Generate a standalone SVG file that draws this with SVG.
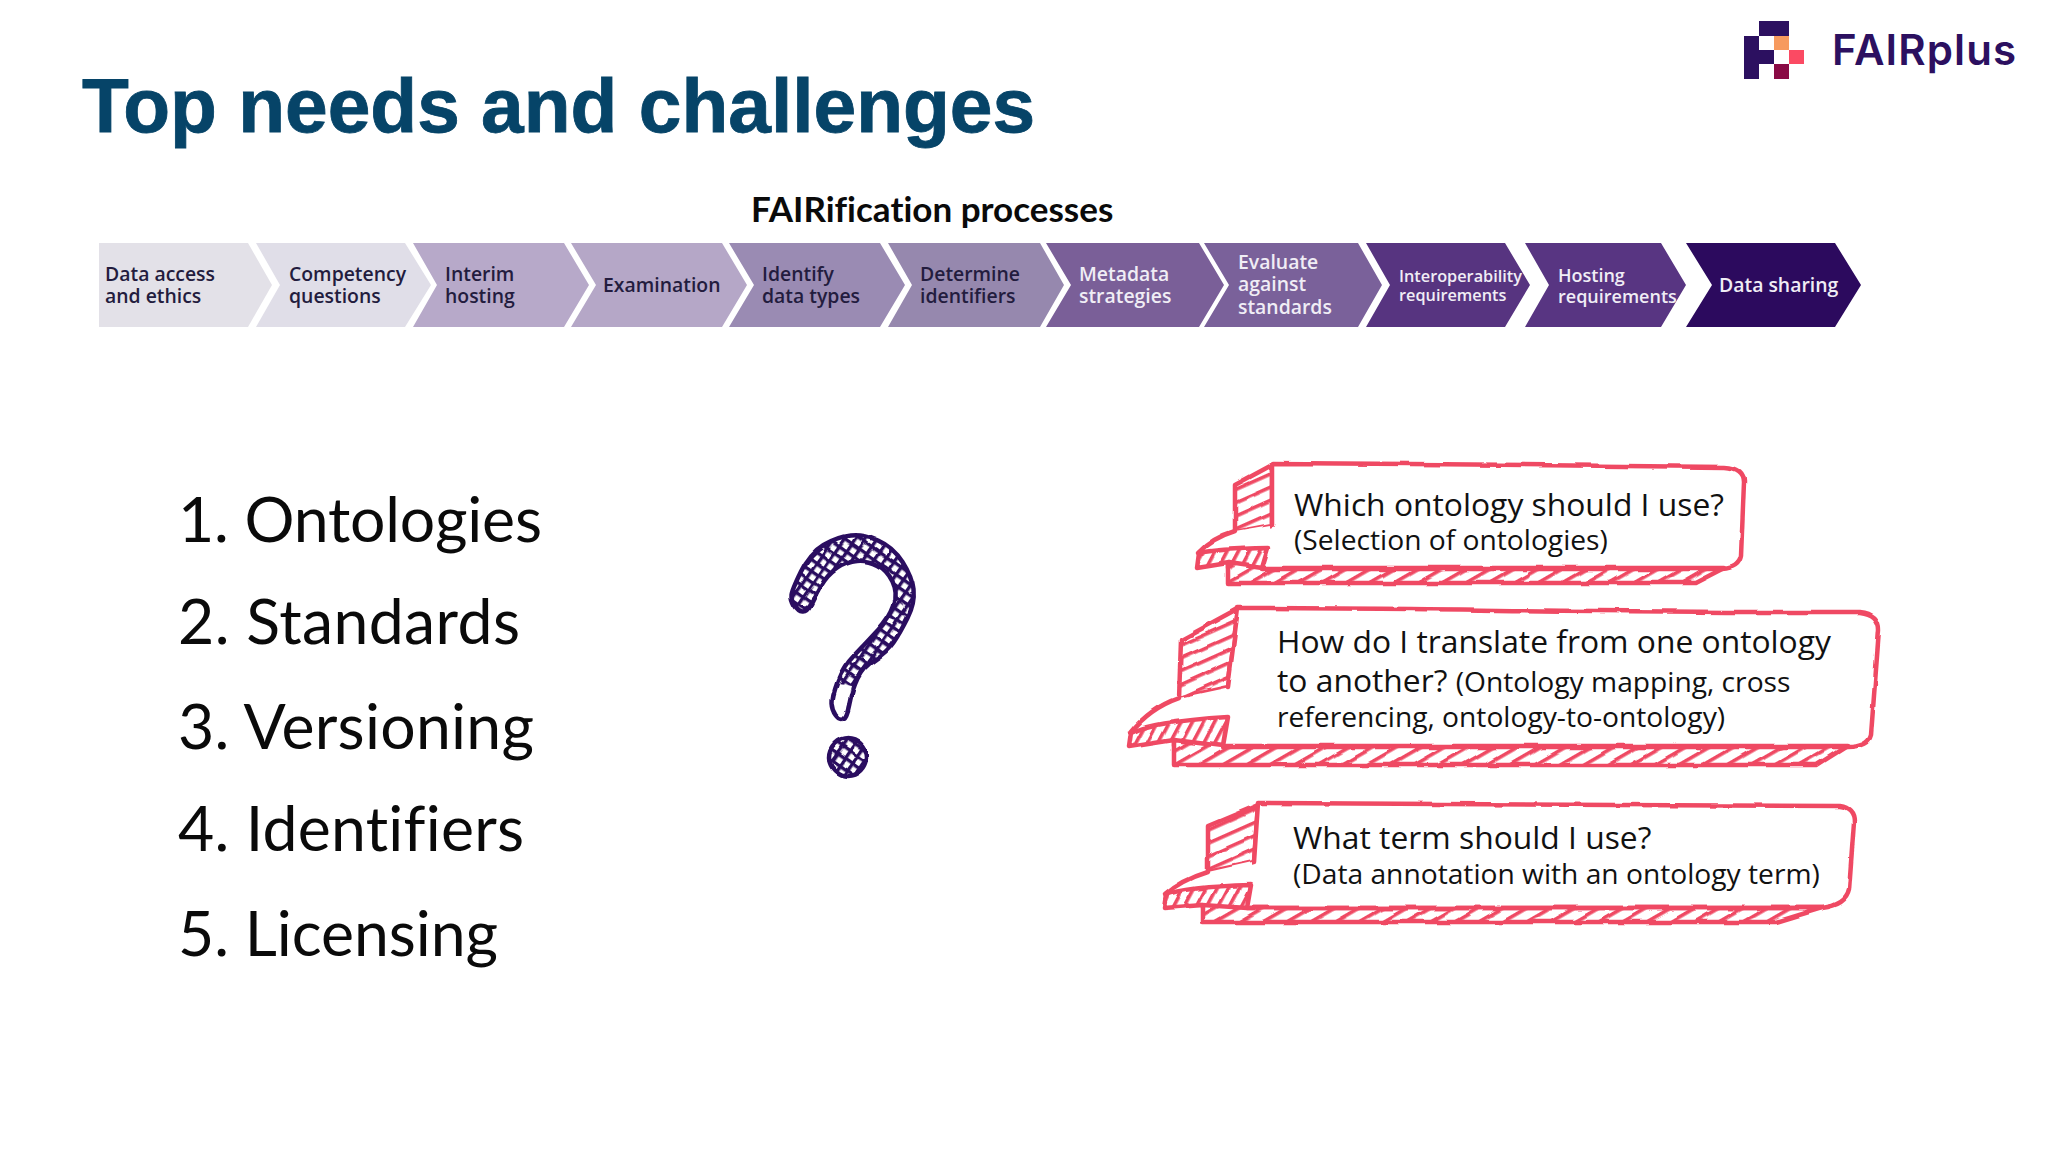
<svg xmlns="http://www.w3.org/2000/svg" width="2048" height="1152" viewBox="0 0 2048 1152">
<style>
text{font-family:"Open Sans","Noto Sans",sans-serif;font-variant-ligatures:none}
.title{font-family:"Liberation Sans",Arial,sans-serif;font-weight:700;font-size:76.7px;fill:#064468;stroke:#064468;stroke-width:.8}
.head{font-family:Lato,"Open Sans",sans-serif;font-weight:700;font-size:35px;fill:#0a0a0a}
.li{font-family:Lato,"Open Sans",sans-serif;font-size:62.5px;fill:#0a0a0a}
.c{font-size:19.4px;font-weight:600}
.d{fill:#231c3e}.l{fill:#f0edf5}
.q{font-size:31.8px;fill:#111}.s{font-size:28.2px;fill:#111}
.w{fill:#fff;stroke:none}
.e{fill:none;stroke:#ef4a64;stroke-width:4.5;stroke-linejoin:round;stroke-linecap:round}
.ha{fill:url(#hatchA);stroke:#ef4a64;stroke-width:4.5;stroke-linejoin:round}
.hb{fill:url(#hatchB);stroke:#ef4a64;stroke-width:4.5;stroke-linejoin:round}
.hc{fill:url(#hatchC);stroke:#ef4a64;stroke-width:4.5;stroke-linejoin:round}
</style>
<defs>
<pattern id="hatchA" width="12" height="12" patternUnits="userSpaceOnUse" patternTransform="rotate(-24)"><rect width="12" height="12" fill="#fff"/><rect width="12" height="3.6" fill="#ef4a64"/></pattern>
<pattern id="hatchB" width="12" height="12" patternUnits="userSpaceOnUse" patternTransform="rotate(-30)"><rect width="12" height="12" fill="#fff"/><rect width="12" height="3.6" fill="#ef4a64"/></pattern>
<pattern id="hatchC" width="10" height="10" patternUnits="userSpaceOnUse" patternTransform="rotate(-62)"><rect width="10" height="10" fill="#fff"/><rect width="10" height="3.6" fill="#ef4a64"/></pattern>
<pattern id="cross" width="9" height="9" patternUnits="userSpaceOnUse" patternTransform="rotate(35)"><rect width="9" height="9" fill="#fff"/><rect width="9" height="3.4" fill="#2c1060"/><rect width="3.4" height="9" fill="#2c1060"/></pattern>
<filter id="rough" x="-5%" y="-5%" width="110%" height="110%"><feTurbulence type="fractalNoise" baseFrequency="0.035" numOctaves="2" seed="4"/><feDisplacementMap in="SourceGraphic" scale="4" xChannelSelector="R" yChannelSelector="G"/></filter>
</defs>
<rect width="2048" height="1152" fill="#fff"/>
<text class="title" x="82" y="132">Top needs and challenges</text>
<text class="head" x="751" y="222">FAIRification processes</text>
<g id="logo">
<rect x="1759" y="21" width="30" height="15" fill="#2c1060"/>
<rect x="1744" y="36" width="15" height="43" fill="#2c1060"/>
<rect x="1759" y="50" width="15" height="14" fill="#2c1060"/>
<rect x="1774" y="36" width="15" height="14" fill="#f79a5e"/>
<rect x="1789" y="50" width="15" height="14" fill="#fb4a63"/>
<rect x="1774" y="64" width="15" height="15" fill="#8a0a45"/>
<text x="1832" y="65" font-size="42" font-weight="600" fill="#2c1060" textLength="184" style="font-family:Inter,Lato,sans-serif">FAIRplus</text>
</g>
<g id="step1"><path d="M99 243H248L272 285L248 327H99Z" fill="#e3e1e8"/><text class="c d"><tspan x="105" y="281">Data access</tspan><tspan x="105" y="303">and ethics</tspan></text></g>
<g id="step2"><path d="M256 243H405L431 285L405 327H256L280 285Z" fill="#e0dee8"/><text class="c d"><tspan x="289" y="281">Competency</tspan><tspan x="289" y="303">questions</tspan></text></g>
<g id="step3"><path d="M413 243H564L589 285L564 327H413L437 285Z" fill="#b7a9c9"/><text class="c d"><tspan x="445" y="281">Interim</tspan><tspan x="445" y="303">hosting</tspan></text></g>
<g id="step4"><path d="M571 243H722L747 285L722 327H571L596 285Z" fill="#b5a7c7"/><text class="c d" x="603" y="292">Examination</text></g>
<g id="step5"><path d="M729 243H880L905 285L880 327H729L754 285Z" fill="#9a8bb3"/><text class="c d"><tspan x="762" y="281">Identify</tspan><tspan x="762" y="303">data types</tspan></text></g>
<g id="step6"><path d="M888 243H1040L1064 285L1040 327H888L912 285Z" fill="#9688ae"/><text class="c d"><tspan x="920" y="281">Determine</tspan><tspan x="920" y="303">identifiers</tspan></text></g>
<g id="step7"><path d="M1046 243H1199L1224 285L1199 327H1046L1071 285Z" fill="#7a5f98"/><text class="c l"><tspan x="1079" y="281">Metadata</tspan><tspan x="1079" y="303">strategies</tspan></text></g>
<g id="step8"><path d="M1204 243H1358L1382 285L1358 327H1204L1229 285Z" fill="#7a619a"/><text class="c l"><tspan x="1238" y="269">Evaluate</tspan><tspan x="1238" y="291">against</tspan><tspan x="1238" y="314">standards</tspan></text></g>
<g id="step9"><path d="M1366 243H1505L1530 285L1505 327H1366L1390 285Z" fill="#573480"/><text class="l" style="font-size:16.3px;font-weight:600"><tspan x="1399" y="282">Interoperability</tspan><tspan x="1399" y="301">requirements</tspan></text></g>
<g id="step10"><path d="M1525 243H1661L1686 285L1661 327H1525L1549 285Z" fill="#583582"/><text class="l" style="font-size:18px;font-weight:600"><tspan x="1558" y="282">Hosting</tspan><tspan x="1558" y="303">requirements</tspan></text></g>
<g id="step11"><path d="M1686 243H1835L1861 285L1835 327H1686L1712 285Z" fill="#2c0a5e"/><text class="c l" x="1719" y="292">Data sharing</text></g>
<g id="list">
<text class="li" x="178" y="542" textLength="364">1. Ontologies</text>
<text class="li" x="178" y="644" textLength="342">2. Standards</text>
<text class="li" x="178" y="749" textLength="356">3. Versioning</text>
<text class="li" x="178" y="851" textLength="346">4. Identifiers</text>
<text class="li" x="178" y="956" textLength="320">5. Licensing</text>
</g>
<g id="question" filter="url(#rough)">
<path fill="url(#cross)" d="M791.5 595Q792 590 801 571.5Q810 553 823.5 545Q837 537 850 535.5Q863 534 878 540.5Q893 547 902.5 562Q912 577 913.5 590Q915 603 907.5 618Q900 633 893.5 642.5Q887 652 875 659.5Q863 667 857.5 678.5Q852 690 849.5 703.5Q847 717 843.5 718.5Q840 720 836.5 715Q833 710 832.5 703.5Q832 697 837.5 682Q843 667 855 654.5Q867 642 878.5 629.5Q890 617 894 605Q898 593 892.5 581.5Q887 570 877 565Q867 560 857 561Q847 562 837 568.5Q827 575 821 586Q815 597 811 605Q807 613 802.5 612.5Q798 612 794.5 606Q791 600 791.5 595Z"/>
<path fill="#fff" d="M838 684Q832 700 835 712Q842 722 846 712Q848 696 851 686Z"/>
<path fill="none" stroke="#2c1060" stroke-width="4.5" stroke-linejoin="round" d="M791.5 595Q792 590 801 571.5Q810 553 823.5 545Q837 537 850 535.5Q863 534 878 540.5Q893 547 902.5 562Q912 577 913.5 590Q915 603 907.5 618Q900 633 893.5 642.5Q887 652 875 659.5Q863 667 857.5 678.5Q852 690 849.5 703.5Q847 717 843.5 718.5Q840 720 836.5 715Q833 710 832.5 703.5Q832 697 837.5 682Q843 667 855 654.5Q867 642 878.5 629.5Q890 617 894 605Q898 593 892.5 581.5Q887 570 877 565Q867 560 857 561Q847 562 837 568.5Q827 575 821 586Q815 597 811 605Q807 613 802.5 612.5Q798 612 794.5 606Q791 600 791.5 595Z"/>
<ellipse cx="848" cy="757" rx="19" ry="19" fill="url(#cross)" stroke="#2c1060" stroke-width="4.5"/>
</g>
<g id="bubble1">
<g filter="url(#rough)">
<path class="ha" d="M1272 465L1235 485V532L1272 525Z"/>
<path class="w" d="M1235 531Q1212 538 1198 553L1197 568H1270V525Z"/>
<path class="w" d="M1272 463C1420 463 1600 467 1725 467Q1744 468 1744 482L1741 556Q1739 568 1722 569H1262L1268 548L1272 525Z"/>
<path class="e" d="M1235 531Q1212 538 1198 553"/>
<path class="hc" d="M1197 568L1199 553Q1215 549 1268 548L1262 568H1228V563Z"/>
<path class="hb" d="M1228 563L1262 568H1724L1695 583H1228Z"/>
<path class="e" d="M1272 525V463C1420 463 1600 467 1725 467Q1744 468 1744 482L1741 556Q1739 568 1722 569H1262"/>
</g>
<text class="q" x="1294" y="516">Which ontology should I use?</text>
<text class="s" x="1294" y="550">(Selection of ontologies)</text>
</g>
<g id="bubble2">
<g filter="url(#rough)">
<path class="ha" d="M1238 609L1181 640L1179 698L1228 687Z"/>
<path class="w" d="M1179 698Q1150 708 1130 733L1129 747H1230V687Z"/>
<path class="w" d="M1238 608C1420 608 1650 613 1860 612Q1879 614 1879 630L1871 735Q1868 747 1847 747H1223L1228 717V687Z"/>
<path class="e" d="M1179 698Q1150 708 1130 733"/>
<path class="hc" d="M1129 747L1131 733Q1150 722 1228 717L1223 746H1174V740Z"/>
<path class="hb" d="M1174 740L1223 746H1847L1817 765H1174Z"/>
<path class="e" d="M1228 687L1238 608C1420 608 1650 613 1860 612Q1879 614 1879 630L1871 735Q1868 747 1847 747H1223"/>
</g>
<text class="q" x="1277" y="653">How do I translate from one ontology</text>
<text x="1277" y="692"><tspan class="q">to another? </tspan><tspan class="s">(Ontology mapping, cross</tspan></text>
<text class="s" x="1277" y="727">referencing, ontology-to-ontology)</text>
</g>
<g id="bubble3">
<g filter="url(#rough)">
<path class="ha" d="M1258 805L1208 826V872L1254 862Z"/>
<path class="w" d="M1208 872Q1182 880 1165 895L1164 908H1252V862Z"/>
<path class="w" d="M1258 803C1420 803 1650 806 1840 806Q1854 808 1854 822L1849 890Q1846 905 1822 908H1247L1251 885L1254 862Z"/>
<path class="e" d="M1208 872Q1182 880 1165 895"/>
<path class="hc" d="M1164 908L1166 895Q1185 887 1251 885L1247 908H1203V905Z"/>
<path class="hb" d="M1203 905L1247 908H1822L1776 922H1203Z"/>
<path class="e" d="M1254 862L1258 803C1420 803 1650 806 1840 806Q1854 808 1854 822L1849 890Q1846 905 1822 908H1247"/>
</g>
<text class="q" x="1293" y="849">What term should I use?</text>
<text class="s" x="1293" y="884">(Data annotation with an ontology term)</text>
</g>
</svg>
